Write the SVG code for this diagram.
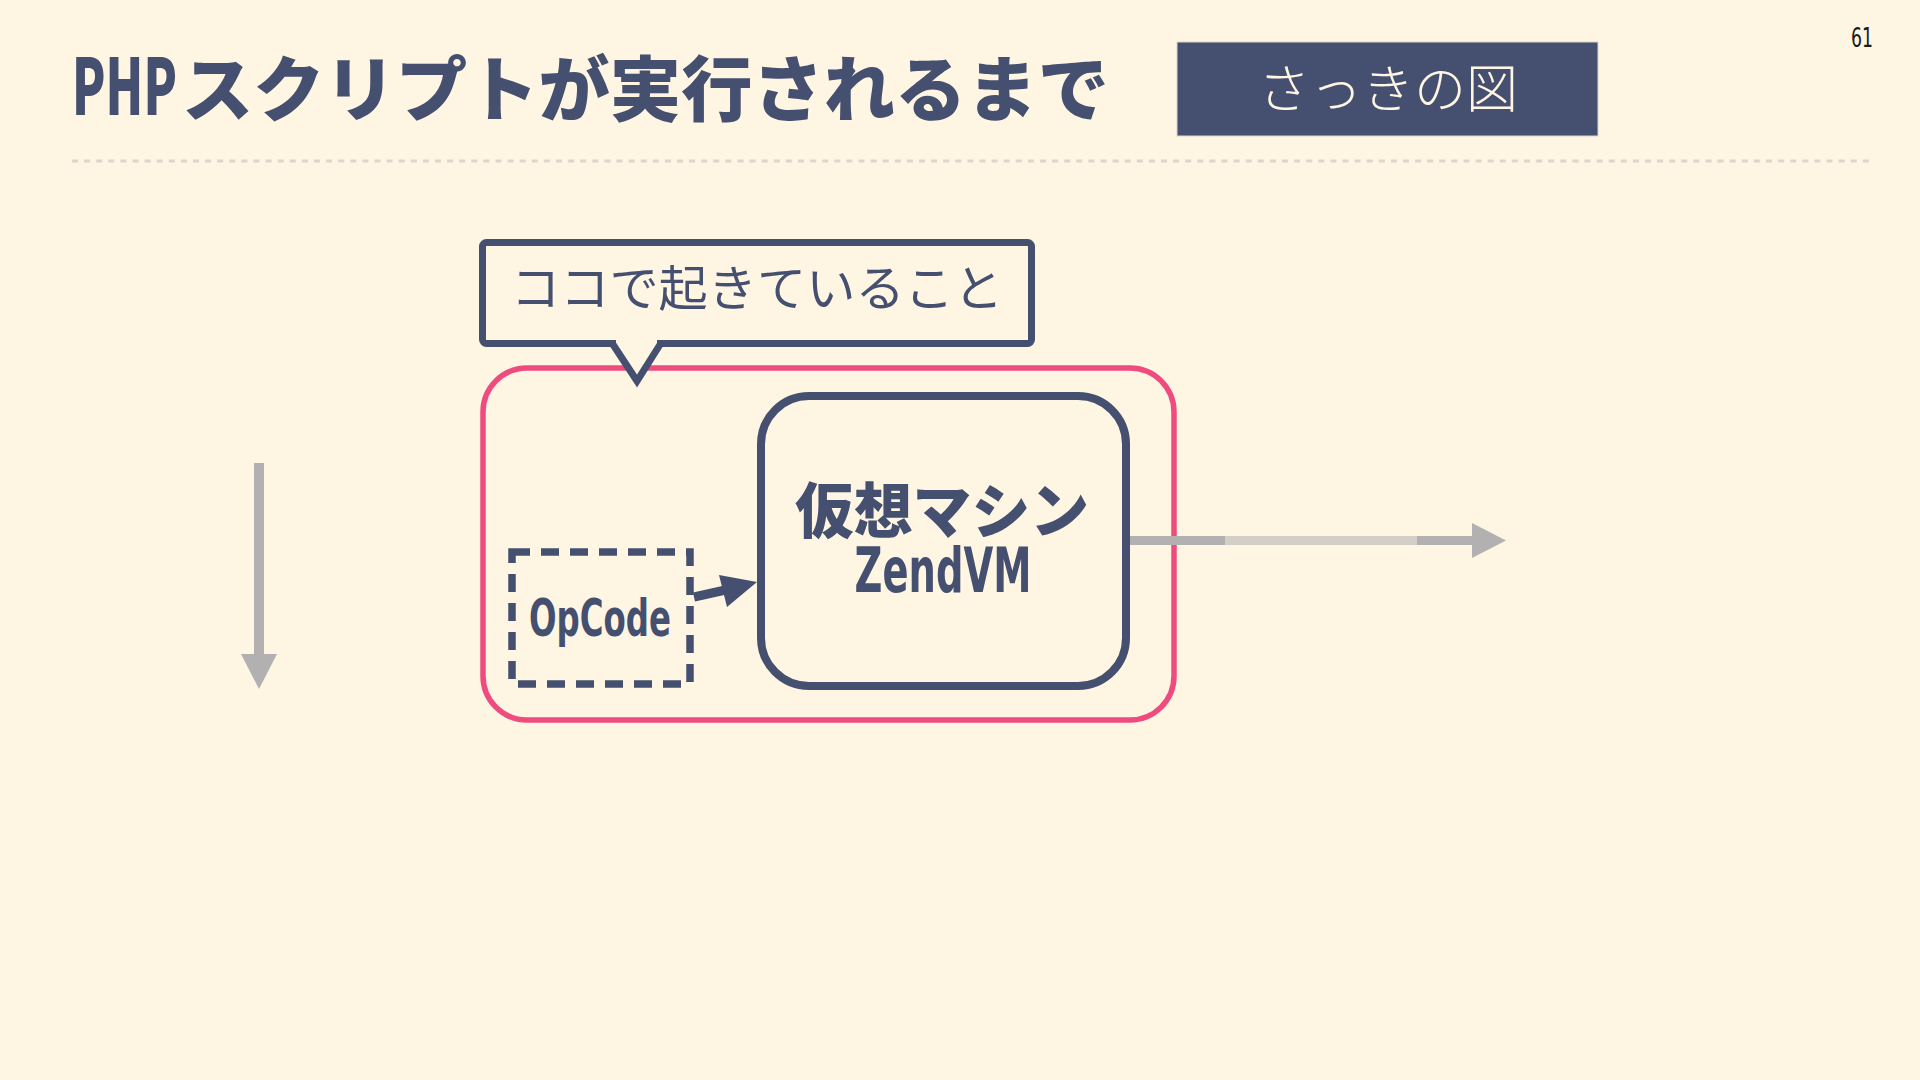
<svg xmlns="http://www.w3.org/2000/svg" width="1920" height="1080" viewBox="0 0 1920 1080">
  <style>
    .navy { fill: #454f6f; }
    .jp { font-family: "Noto Sans CJK JP", "Noto Sans", sans-serif; }
    .cond { font-family: "DejaVu Sans", "Liberation Sans", sans-serif; font-weight: bold; }
    .gray { fill: #b3b0b1; }
  </style>
  <rect x="0" y="0" width="1920" height="1080" fill="#fef5e3"/>

  <!-- header -->
  <g id="title">
    <text transform="translate(72,115) scale(0.714,1)" x="0" y="0" class="jp navy" font-size="78" font-weight="900" textLength="147" lengthAdjust="spacingAndGlyphs">PHP</text>
    <text x="182" y="115" class="jp navy" font-size="71" font-weight="900" textLength="927" lengthAdjust="spacingAndGlyphs">スクリプトが実行されるまで</text>
  </g>
  <g id="badge">
    <rect x="1177" y="42" width="421" height="94" fill="#454f6f" stroke="#d8d4cf" stroke-width="1"/>
    <text x="1388" y="108" class="jp" font-size="52" font-weight="300" fill="#fef5e3" text-anchor="middle">さっきの図</text>
  </g>
  <text id="page" x="1862" y="47" font-family="'DejaVu Sans Condensed','DejaVu Sans',sans-serif" font-size="26" fill="#1a1a1a" text-anchor="middle" textLength="22" lengthAdjust="spacingAndGlyphs">61</text>
  <line x1="72" y1="161" x2="1874" y2="161" stroke="#ddd6cc" stroke-width="3" stroke-dasharray="6 6.1"/>

  <!-- pink region -->
  <g id="region">
    <rect x="483" y="368" width="691" height="352" rx="44" fill="none" stroke="#ef4b7f" stroke-width="5.5"/>
  </g>

  <!-- callout -->
  <g id="callout">
    <rect x="482.5" y="242.5" width="549" height="101" rx="4" fill="#fef5e3" stroke="#454f6f" stroke-width="7"/>
    <path d="M612,343 L637,381 L661,343" fill="#fef5e3" stroke="#454f6f" stroke-width="7" stroke-linejoin="miter"/>
    <rect x="616" y="339" width="41" height="4" fill="#fef5e3"/>
    <text x="757" y="306" class="jp navy" font-size="49" font-weight="400" text-anchor="middle" textLength="492" lengthAdjust="spacingAndGlyphs">ココで起きていること</text>
  </g>

  <!-- ZendVM node -->
  <g id="zendvm">
    <rect x="761" y="396" width="365" height="290" rx="48" fill="none" stroke="#454f6f" stroke-width="8"/>
    <text x="942" y="533" class="jp navy" font-size="60" font-weight="900" text-anchor="middle" textLength="294" lengthAdjust="spacingAndGlyphs">仮想マシン</text>
    <text x="943" y="592" class="cond navy" font-size="62" text-anchor="middle" textLength="177" lengthAdjust="spacingAndGlyphs">ZendVM</text>
  </g>

  <!-- OpCode node -->
  <g id="opcode">
    <rect x="512" y="552" width="178" height="132" fill="none" stroke="#454f6f" stroke-width="7.5" stroke-dasharray="18 11"/>
    <text x="600" y="636" class="cond navy" font-size="52" text-anchor="middle" textLength="142" lengthAdjust="spacingAndGlyphs">OpCode</text>
  </g>

  <!-- connectors -->
  <g id="connectors">
    <line x1="694" y1="597" x2="730" y2="589" stroke="#454f6f" stroke-width="9"/>
    <polygon points="719,575 757,582 727,607" fill="#454f6f"/>

    <rect x="254" y="463" width="10" height="193" class="gray"/>
    <polygon points="241,654 277,654 259,689" class="gray"/>

    <rect x="1130" y="536" width="95" height="9" class="gray"/>
    <rect x="1225" y="536" width="192" height="9" fill="#d3cec7"/>
    <rect x="1417" y="536" width="57" height="9" class="gray"/>
    <polygon points="1472,523 1506,540.5 1472,558" class="gray"/>
  </g>
</svg>
